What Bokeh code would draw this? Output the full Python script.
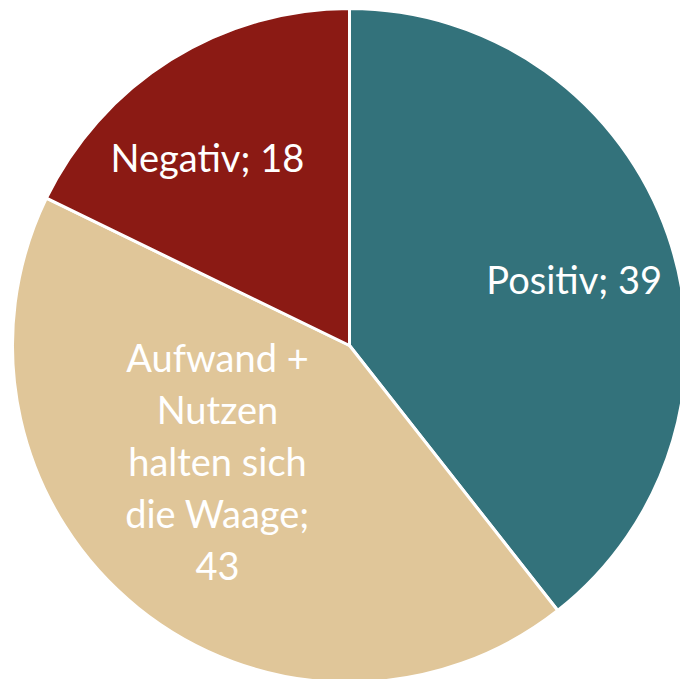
import math
from bokeh.plotting import figure
from bokeh.models import ColumnDataSource, Range1d
from bokeh.core.properties import value
from bokeh.embed import file_html
from bokeh.resources import INLINE

# data (shares; labels show rounded values)
categories = ["Positiv", "Aufwand +\nNutzen\nhalten sich\ndie Waage", "Negativ"]
values = [39.4, 42.8, 17.8]
colors = ["#33727B", "#E0C699", "#8B1A14"]
label_texts = [f"{c};{chr(10) if chr(10) in c else ' '}{round(v)}" for c, v in zip(categories, values)]

# layout (pixels)
W, H = 680, 679
cx, cy = 349, H - 345
R = 337
label_frac = [0.695, 0.52, 0.70]
label_tweak = [2.7, 10.0, -5.0]  # degrees, clockwise

total = sum(values)
starts, ends, lx, ly = [], [], [], []
acc = 0.0
for v, f, tw in zip(values, label_frac, label_tweak):
    a0 = acc / total * 360.0
    a1 = (acc + v) / total * 360.0
    acc += v
    starts.append(math.radians(90 - a0))
    ends.append(math.radians(90 - a1))
    mid = (a0 + a1) / 2 + tw
    lx.append(cx + f * R * math.sin(math.radians(mid)))
    ly.append(cy + f * R * math.cos(math.radians(mid)))

src = ColumnDataSource(dict(cat=categories, start=starts, end=ends, color=colors,
                            x=[cx] * 3, y=[cy] * 3))
lsrc = ColumnDataSource(dict(x=lx, y=ly, text=label_texts))

p = figure(width=W, height=H, output_backend="svg", toolbar_location=None,
           x_range=Range1d(0, W), y_range=Range1d(0, H), min_border=0)
p.axis.visible = False
p.grid.visible = False
p.outline_line_color = None
p.background_fill_color = "white"

p.wedge(x="x", y="y", radius=R, start_angle="start", end_angle="end",
        direction="clock", fill_color="color", line_color="white", line_width=3,
        source=src)

p.text(x="x", y="y", text="text", source=lsrc, text_color="white",
       text_font=value("Lato"), text_font_size="38px", text_align="center",
       text_baseline="middle", text_line_height=1.13)

open("out.html", "w").write(file_html(p, INLINE))
